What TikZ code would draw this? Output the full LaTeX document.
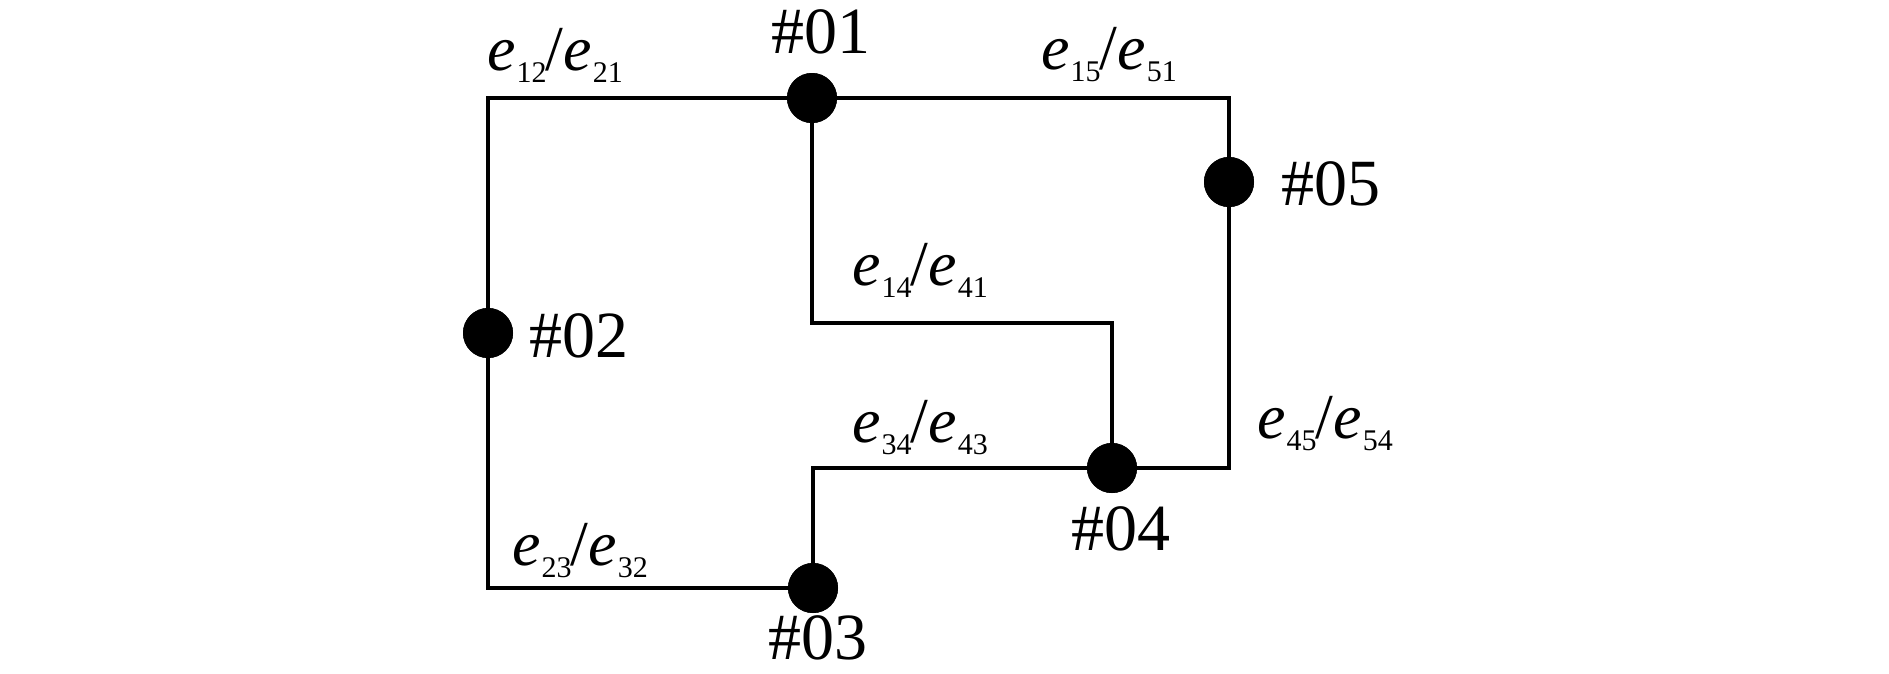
\documentclass[tikz,border=0pt]{standalone}
\usepackage{fontspec}
\setmainfont{Liberation Serif}
\newcommand{\subsz}{\fontsize{30}{30}\selectfont}
\newcommand{\elab}[2]{\textit{e}\kern1pt\raisebox{-12pt}{\subsz #1}\kern-1pt/\textit{e}\kern1pt\raisebox{-12pt}{\subsz #2}}
\begin{document}
\begin{tikzpicture}[x=1pt,y=-1pt,
  dot/.style={circle,fill=black,inner sep=0pt,minimum size=50pt},
  wire/.style={line width=3.6pt},
  txt/.style={inner sep=0pt,font=\fontsize{66}{66}\selectfont},
  elbl/.style={inner sep=0pt,anchor=base west,font=\fontsize{64}{64}\selectfont}]
\useasboundingbox (0,0) rectangle (1889,673);
% nodes
\node[dot] (n1) at (812,98) {};
\node[dot] (n2) at (488,333) {};
\node[dot] (n3) at (813,588) {};
\node[dot] (n4) at (1112,468) {};
\node[dot] (n5) at (1229,182) {};
% connectors
\draw[wire] (n2.center) |- (n1.center);
\draw[wire] (n1.center) -| (n5.center);
\draw[wire] (n2.center) |- (n3.center);
\draw[wire] (n3.center) |- (n4.center);
\draw[wire] (n1.center) -- ++(0,225) -| (n4.center);
\draw[wire] (n5.center) |- (n4.center);
\node[dot] at (n1) {};
\node[dot] at (n2) {};
\node[dot] at (n3) {};
\node[dot] at (n4) {};
\node[dot] at (n5) {};
% node labels
\node[txt,anchor=base] (l1) at (821,53) {\#01};
\node[txt,anchor=base west] (l2) at (529,357) {\#02};
\node[txt,anchor=base] (l3) at (818,659) {\#03};
\node[txt,anchor=base] (l4) at (1121,550) {\#04};
\node[txt,anchor=base west] (l5) at (1281,205) {\#05};
% edge labels
\node[elbl] (e12) at (487,70) {\elab{12}{21}};
\node[elbl] (e15) at (1041,69) {\elab{15}{51}};
\node[elbl] (e14) at (852,285) {\elab{14}{41}};
\node[elbl] (e34) at (852,442) {\elab{34}{43}};
\node[elbl] (e23) at (512,565) {\elab{23}{32}};
\node[elbl] (e45) at (1257,438) {\elab{45}{54}};
\end{tikzpicture}
\end{document}
